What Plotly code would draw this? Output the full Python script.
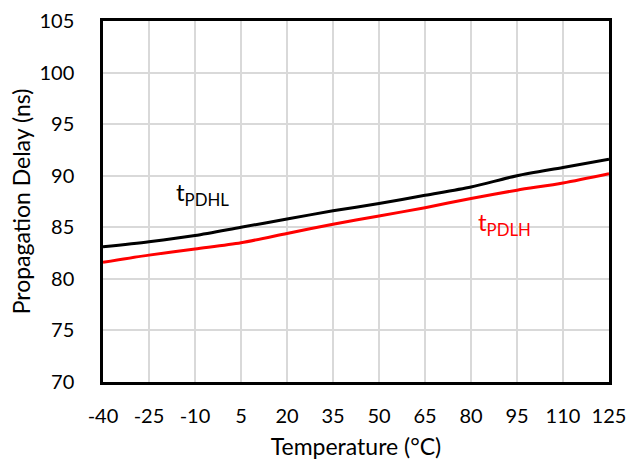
import plotly.graph_objects as go

temps = [-40, -25, -10, 5, 20, 35, 50, 65, 80, 95, 110, 125]
tpdhl = [83.1, 83.6, 84.2, 85.0, 85.8, 86.6, 87.3, 88.1, 88.9, 90.0, 90.8, 91.6]
tpdlh = [81.6, 82.3, 82.9, 83.5, 84.4, 85.3, 86.1, 86.9, 87.8, 88.6, 89.3, 90.2]
x_ticks = [-40, -25, -10, 5, 20, 35, 50, 65, 80, 95, 110, 125]
y_ticks = [70, 75, 80, 85, 90, 95, 100, 105]

FONT = "Lato"

fig = go.Figure()
fig.add_trace(go.Scatter(x=temps, y=tpdhl, mode="lines", name="tPDHL",
                         line=dict(color="black", width=3, shape="spline", smoothing=0.8)))
fig.add_trace(go.Scatter(x=temps, y=tpdlh, mode="lines", name="tPDLH",
                         line=dict(color="#ff0000", width=3, shape="spline", smoothing=0.8)))

fig.add_annotation(x=-17, y=88.3, xref="x", yref="y", xanchor="left", yanchor="middle",
                   text="t<sub>PDHL</sub>", showarrow=False,
                   font=dict(family=FONT, size=24, color="black"))
fig.add_annotation(x=81.5, y=85.4, xref="x", yref="y", xanchor="left", yanchor="middle",
                   text="t<sub>PDLH</sub>", showarrow=False,
                   font=dict(family=FONT, size=24, color="#ff0000"))

axis_common = dict(showgrid=True, gridcolor="#d9d9d9", gridwidth=1.5,
                   showline=True, linecolor="black", linewidth=2.5, mirror=True,
                   zeroline=False, ticks="", automargin=False,
                   tickfont=dict(family=FONT, size=20, color="black"),
                   title_font=dict(family=FONT, size=23, color="black"))

fig.update_xaxes(range=[-40, 125], tickvals=x_ticks, ticktext=[str(v) for v in x_ticks],
                 title_text="Temperature (°C)", ticklabelstandoff=14, title_standoff=14,
                 **axis_common)
fig.update_yaxes(range=[70, 105], tickvals=y_ticks, ticktext=[str(v) for v in y_ticks],
                 title_text="Propagation Delay (ns)", ticklabelstandoff=22, title_standoff=3,
                 **axis_common)

fig.update_layout(width=631, height=464, margin=dict(l=103, r=22, t=21, b=82, autoexpand=False),
                  paper_bgcolor="white", plot_bgcolor="white", showlegend=False,
                  font=dict(family=FONT))

fig.write_html("out.html")
